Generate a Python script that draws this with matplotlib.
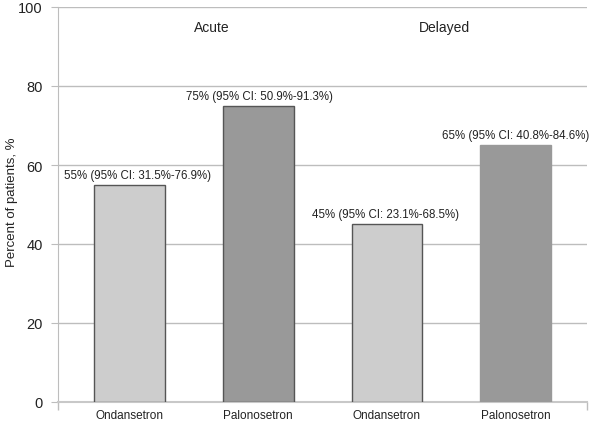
import numpy as np
import matplotlib
matplotlib.use('Agg')
from matplotlib import pyplot as plt

plt.rcParams['font.family'] = ['Liberation Sans', 'DejaVu Sans']

drugs = ['Ondansetron', 'Palonosetron', 'Ondansetron', 'Palonosetron']
values = [55, 75, 45, 65]
labels = ['55% (95% CI: 31.5%-76.9%)', '75% (95% CI: 50.9%-91.3%)',
          '45% (95% CI: 23.1%-68.5%)', '65% (95% CI: 40.8%-84.6%)']
phases = ['Acute', 'Delayed']

fills = ['#cdcdcd', '#999999', '#cdcdcd', '#999999']
edges = ['#555555', '#555555', '#555555', '#999999']
grid_c = '#bdbdbd'

fig = plt.figure(figsize=(6, 4.27), dpi=100)
ax = fig.add_axes([58 / 600, 24 / 427, 529 / 600, 395 / 427])

x = np.arange(len(values))
ax.bar(x, values, width=0.55, color=fills, edgecolor=edges, linewidth=1.0, zorder=3)

offs = [6, 1, -1, 0]
for i in range(len(values)):
    ax.annotate(labels[i], (x[i], values[i]), xytext=(offs[i], 3),
                textcoords='offset points', ha='center', va='bottom',
                fontsize=8.3, color='#222222')

ax.text(0.64, 95, phases[0], ha='center', va='center', fontsize=10, color='#222222')
ax.text(2.45, 95, phases[1], ha='center', va='center', fontsize=10, color='#222222')

ax.set_xlim(-0.556, 3.555)
ax.set_ylim(0, 100)
ax.set_yticks([0, 20, 40, 60, 80, 100])
ax.set_xticks(x)
ax.set_xticklabels(drugs, fontsize=8.5, color='#222222')
ax.tick_params(axis='y', length=5, color=grid_c, labelsize=10.5, labelcolor='#222222', pad=6)
ax.tick_params(axis='x', length=0, pad=5)
ax.set_xticks([-0.556, 3.555], minor=True)
ax.tick_params(axis='x', which='minor', length=6, color=grid_c, width=1)

ax.yaxis.grid(True, color=grid_c, linewidth=1, zorder=0)
ax.set_axisbelow(True)
for s in ['top', 'right']:
    ax.spines[s].set_visible(False)
ax.spines['left'].set_color(grid_c)
ax.spines['bottom'].set_color('#c8c8c8')
ax.spines['bottom'].set_linewidth(1.5)

fig.text(12 / 600, 1 - 202 / 427, 'Percent of patients, %', rotation=90,
         ha='center', va='center', fontsize=9.5, color='#222222')

plt.savefig('out.png', dpi=100)
